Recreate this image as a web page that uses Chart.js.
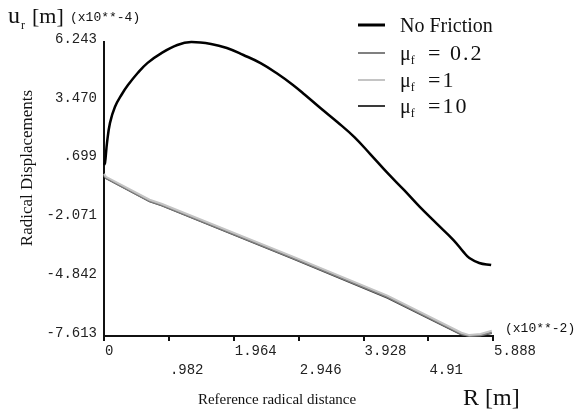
<!DOCTYPE html>
<html>
<head>
<meta charset="utf-8">
<script src="https://cdn.jsdelivr.net/npm/chart.js@4/dist/chart.umd.min.js"></script>
<style>
  html, body { margin: 0; padding: 0; background: #fff; }
</style>
</head>
<body>
<canvas id="chart" width="579" height="412"></canvas>
<script>
// radial position R (x10**-2 m) and radial displacement u_r (x10**-4 m)
const noFrictionR = [0.0, 0.015, 0.045, 0.09, 0.165, 0.27, 0.36, 0.51, 0.66, 0.87, 1.11, 1.32, 1.62, 1.86, 2.11, 2.37, 2.61, 2.86, 3.04, 3.28, 3.54, 3.79, 4.03, 4.29, 4.54, 4.78, 5.04, 5.29, 5.44, 5.53, 5.68, 5.86];
const noFrictionU = [0.45, 0.54, 1.48, 2.42, 3.18, 3.78, 4.20, 4.78, 5.26, 5.72, 6.10, 6.24, 6.15, 5.96, 5.63, 5.25, 4.78, 4.22, 3.76, 3.12, 2.45, 1.76, 0.96, 0.07, -0.73, -1.53, -2.33, -3.09, -3.65, -3.94, -4.17, -4.27];

const frictionR = [0.0, 0.03, 0.69, 0.87, 2.86, 4.29, 5.41, 5.53, 5.70, 5.87];
const mu02U = [-0.03, -0.17, -1.25, -1.44, -3.94, -5.78, -7.52, -7.61, -7.58, -7.45];
const mu1U = [0.03, -0.11, -1.19, -1.38, -3.87, -5.71, -7.46, -7.57, -7.52, -7.36];
const mu10U = [-0.05, -0.19, -1.28, -1.47, -3.97, -5.82, -7.55, -7.61, -7.60, -7.48];

const xTicks = [0, 0.982, 1.964, 2.946, 3.928, 4.91, 5.888];
const xTickLabels = ["0", ".982", "1.964", "2.946", "3.928", "4.91", "5.888"];
const yTicks = [6.243, 3.470, 0.699, -2.071, -4.842, -7.613];
const yTickLabels = ["6.243", "3.470", ".699", "-2.071", "-4.842", "-7.613"];

const legendItems = [
    { main: "No Friction", sub: null, rest: null, color: "#000", width: 3 },
    { main: "\u03bc", sub: "f", rest: "= 0.2", color: "#808080", width: 2 },
    { main: "\u03bc", sub: "f", rest: "=1", color: "#c4c4c4", width: 2 },
    { main: "\u03bc", sub: "f", rest: "=10", color: "#3a3a3a", width: 2 }
];

const pts = (xs, ys) => xs.map((x, i) => ({ x, y: ys[i] }));

const SERIF = "'Liberation Serif', 'DejaVu Serif', serif";
const MONO = "'Liberation Mono', 'DejaVu Sans Mono', monospace";

const annotations = {
    id: "annotations",
    afterDraw(chart) {
        const ctx = chart.ctx;
        ctx.save();
        ctx.fillStyle = "#111";
        ctx.textBaseline = "alphabetic";
        ctx.textAlign = "left";

        // y unit title
        ctx.font = "24px " + SERIF;
        ctx.fillText("u", 8, 23);
        ctx.font = "12px " + SERIF;
        ctx.fillText("r", 21, 29);
        ctx.font = "22px " + SERIF;
        ctx.fillText("[m]", 32, 23);
        ctx.font = "13px " + MONO;
        ctx.fillText("(x10**-4)", 70, 21);

        // x unit
        ctx.fillText("(x10**-2)", 505, 332);
        ctx.font = "24px " + SERIF;
        ctx.fillText("R [m]", 463, 405);

        // axis titles
        ctx.font = "15px " + SERIF;
        ctx.textAlign = "center";
        ctx.fillText("Reference radical distance", 277, 404);
        ctx.save();
        ctx.translate(32, 168);
        ctx.rotate(-Math.PI / 2);
        ctx.font = "17px " + SERIF;
        ctx.fillText("Radical Displacements", 0, 0);
        ctx.restore();

        // legend
        ctx.textAlign = "left";
        const baselines = [32, 60, 87, 113];
        legendItems.forEach((item, i) => {
            const b = baselines[i];
            ctx.strokeStyle = item.color;
            ctx.lineWidth = item.width;
            ctx.beginPath();
            ctx.moveTo(358, b - 7);
            ctx.lineTo(385, b - 7);
            ctx.stroke();
            ctx.font = "20px " + SERIF;
            ctx.fillText(item.main, 400, b);
            if (item.sub) {
                const w = ctx.measureText(item.main).width;
                ctx.font = "12px " + SERIF;
                ctx.fillText(item.sub, 400 + w, b + 4);
                ctx.font = "22px " + SERIF;
                ctx.letterSpacing = "2px";
                ctx.fillText(item.rest, 428, b);
                ctx.letterSpacing = "0px";
            }
        });
        ctx.restore();
    }
};

new Chart(document.getElementById("chart"), {
    type: "line",
    data: {
        datasets: [
            {
                label: "No Friction",
                data: pts(noFrictionR, noFrictionU),
                borderColor: "#000",
                borderWidth: 2.5,
                tension: 0.4
            },
            {
                label: "mu_f = 1",
                data: pts(frictionR, mu1U),
                borderColor: "#c4c4c4",
                borderWidth: 2
            },
            {
                label: "mu_f = 0.2",
                data: pts(frictionR, mu02U),
                borderColor: "#808080",
                borderWidth: 2
            },
            {
                label: "mu_f = 10",
                data: pts(frictionR, mu10U),
                borderColor: "#3a3a3a",
                borderWidth: 1.5
            }
        ]
    },
    options: {
        responsive: false,
        animation: false,
        devicePixelRatio: 1,
        clip: false,
        elements: { point: { radius: 0 }, line: { tension: 0 } },
        layout: { padding: { left: 0, top: 42, right: 86, bottom: 0 } },
        plugins: { legend: { display: false }, tooltip: { enabled: false } },
        scales: {
            x: {
                type: "linear",
                min: 0,
                max: 5.888,
                afterBuildTicks: (scale) => {
                    scale.ticks = xTicks.map((v) => ({ value: v }));
                },
                afterFit: (scale) => {
                    scale.height = 76;
                },
                grid: { drawOnChartArea: false, drawTicks: true, tickLength: 5, color: "#111", lineWidth: 2 },
                border: { color: "#111", width: 2 },
                ticks: {
                    autoSkip: false,
                    maxRotation: 0,
                    align: "start",
                    padding: 1,
                    labelOffset: 1,
                    color: "#222",
                    font: { family: MONO, size: 14, lineHeight: 1.36 },
                    callback: (v, i) => (i % 2 === 0 ? xTickLabels[i] : ["", xTickLabels[i]])
                }
            },
            y: {
                type: "linear",
                min: -7.613,
                max: 6.243,
                afterBuildTicks: (scale) => {
                    scale.ticks = yTicks.map((v) => ({ value: v }));
                },
                afterFit: (scale) => {
                    scale.width = 104;
                },
                grid: { drawOnChartArea: false, drawTicks: false },
                border: { color: "#111", width: 2 },
                ticks: {
                    autoSkip: false,
                    padding: 7,
                    labelOffset: -3,
                    color: "#222",
                    font: { family: MONO, size: 14 },
                    callback: (v, i) => yTickLabels[i]
                }
            }
        }
    },
    plugins: [annotations]
});
</script>
</body>
</html>
